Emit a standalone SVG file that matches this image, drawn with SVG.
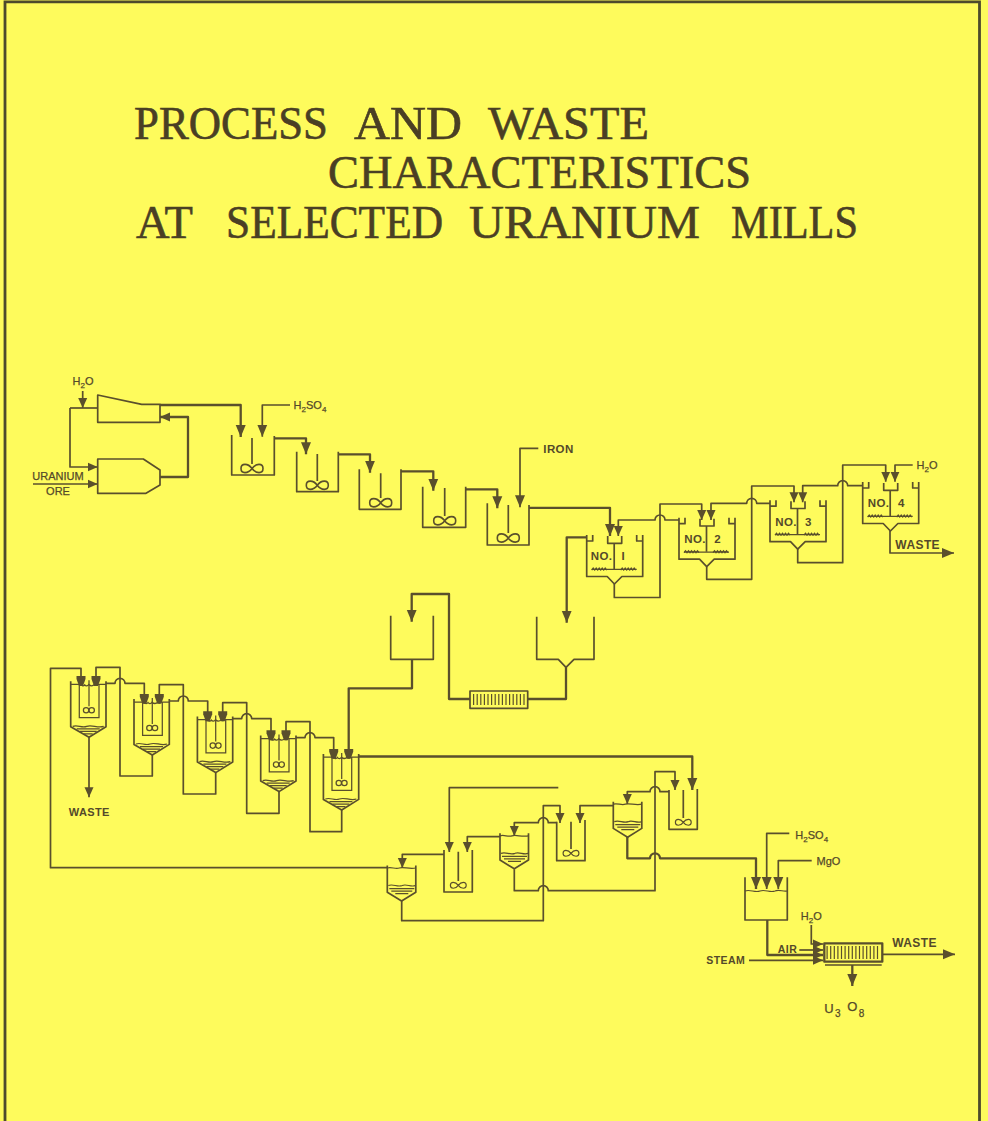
<svg xmlns="http://www.w3.org/2000/svg" width="988" height="1121" viewBox="0 0 988 1121">
<style>
.l{fill:none;stroke:#5a4f2c;stroke-width:1.7;stroke-linejoin:round}
.k{fill:none;stroke:#5a4f2c;stroke-width:2.3;stroke-linejoin:round}
.t{fill:none;stroke:#5a4f2c;stroke-width:1.25}
.g{fill:none;stroke:#5a4f2c;stroke-width:1.6}
.a{marker-end:url(#ar)}
.b{marker-end:url(#sm)}
.c{marker-end:url(#ti)}
text{fill:#54492a;font-family:"Liberation Sans",Arial,sans-serif}
.lab{font-size:11px;text-anchor:middle;stroke:#54492a;stroke-width:.25}
.bd{font-size:11.5px;font-weight:bold;text-anchor:middle;letter-spacing:.4px}
.title{font-family:"Liberation Serif","Times New Roman",serif;font-size:47px;fill:#4a3f24;stroke:#4a3f24;stroke-width:.6}
</style>
<defs>
<marker id="ar" markerUnits="userSpaceOnUse" markerWidth="13" markerHeight="11" viewBox="0 0 13 11" refX="12" refY="5.5" orient="auto"><path d="M0 .5L12 5.5 0 10.5z" fill="#5a4f2c"/></marker>
<marker id="sm" markerUnits="userSpaceOnUse" markerWidth="11" markerHeight="10" viewBox="0 0 11 10" refX="10" refY="5" orient="auto"><path d="M0 .5L10 5 0 9.5z" fill="#5a4f2c"/></marker>
<marker id="ti" markerUnits="userSpaceOnUse" markerWidth="11" markerHeight="10" viewBox="0 0 11 10" refX="10" refY="5" orient="auto"><path d="M0 .5H3L10 3V7L3 9.5H0z" fill="#5a4f2c"/></marker>
<path id="ag" class="g" d="M0 0C-4-5.5-11-5.5-11 0C-11 5.5-4 5.5 0 0C4-5.5 11-5.5 11 0C11 5.5 4 5.5 0 0Z"/>
<g id="thick">
<path class="l" d="M0 0V41.5H20.5L27.7 49 35.2 41.5H56V0M6 0V6H0M50 0V6H56M21 1V8.3H35V1M27.5 8.3V34"/>
<path class="t" d="M5 34.4H50"/>
<path class="t" d="M5 35l1.5-2 1.5 2 1.5-2 1.5 2 1.5-2 1.5 2 1.5-2 1.5 2 1.5-2 1.5 2M34 35l1.5-2 1.5 2 1.5-2 1.5 2 1.5-2 1.5 2 1.5-2 1.5 2 1.5-2 1.5 2"/>
</g>
<g id="unit">
<path class="l" d="M0 -2V43.4L18.3 54 35.3 43.4V-2"/>
<path class="t" d="M0 1H10C11 3 13 3 14 1.5C15 3 17 3 18 1.2C20 3 22 3 24 1H35.3"/>
<path class="t" d="M8.6 1V34.4H28.3V1M18.3 -3V23"/>
<circle class="t" cx="15.4" cy="27" r="2.7"/><circle class="t" cx="21" cy="27" r="2.7"/>
<path class="t" d="M2 43C7 41 11 45 16 43C21 41 27 45 33 43M6 45.5H29M9 48H26M13 50.5H22"/>
</g>
<g id="cell">
<path class="l" d="M0 0V26.7L14.3 35.5 28.5 26.7V0"/>
<path class="t" d="M0 2.5C4 1 8 4 12 2.5C16 1 22 4 28.5 2.5"/>
<path class="t" d="M1 20C6 18 10 22 15 20C19 18 24 22 28 20M2 23H27M4 25.5H25M8 28H21"/>
</g>
</defs>
<rect width="988" height="1121" fill="#fefb5c"/>
<g id="border"><path d="M5 1121V1.9H979.5V1121" fill="none" stroke="#4d4a2c" stroke-width="2.8"/></g>

<g id="title">
<text class="title" y="139"><tspan x="134" textLength="194" lengthAdjust="spacingAndGlyphs">PROCESS</tspan> <tspan x="354" textLength="108" lengthAdjust="spacingAndGlyphs">AND</tspan> <tspan x="488" textLength="161" lengthAdjust="spacingAndGlyphs">WASTE</tspan></text>
<text class="title" x="328" y="188" textLength="423" lengthAdjust="spacingAndGlyphs">CHARACTERISTICS</text>
<text class="title" y="238"><tspan x="136" textLength="56" lengthAdjust="spacingAndGlyphs">AT</tspan> <tspan x="226" textLength="217" lengthAdjust="spacingAndGlyphs">SELECTED</tspan> <tspan x="469" textLength="231" lengthAdjust="spacingAndGlyphs">URANIUM</tspan> <tspan x="731" textLength="127" lengthAdjust="spacingAndGlyphs">MILLS</tspan></text>
</g>

<g id="connectors">
<path class="l b" d="M82.7 391V408"/>
<path class="l" d="M97.7 408H70"/>
<path class="l b" d="M70 408V467H97.7"/>
<path class="l b" d="M33 484H97.7"/>
<path class="k b" d="M160 477H188V417H160"/>
<path class="k a" d="M160 405H240.7V437"/>
<path class="l a" d="M290 405H262.3V436.7"/>
<path class="k a" d="M274.3 438.3H306V454.3"/>
<path class="k a" d="M338.3 454.3H370V472.7"/>
<path class="k a" d="M401 471.3H433.3V490.7"/>
<path class="k a" d="M465.7 489.3H497.3V508.3"/>
<path class="l a" d="M538.3 448.3H520V507.3"/>
<path class="k a" d="M529 507.8H610V536"/>
<path class="l b" d="M679 520H665a5 5 0 0 0-10 0H618.3V536"/>
<path class="k a" d="M586.7 537.3H566.7V622.7"/>
<path class="l b" d="M614.3 584V597.5H660V504H701.7V520"/>
<path class="l b" d="M770 503.3H756.7a5 5 0 0 0-10 0H711V520"/>
<path class="l b" d="M706.7 566.7V579.3H751.7V486H794V502.3"/>
<path class="l b" d="M862.7 485.7H847.7a5 5 0 0 0-10 0H802.7V502.3"/>
<path class="l b" d="M797.7 549V562.7H842.7V465H885.7V481.7"/>
<path class="l b" d="M912.7 465H895V481.7"/>
<path class="l a" d="M890 531V553H954"/>
<path class="k" d="M566 667.3V699H527.7"/>
<path class="k a" d="M470 699H449V594H411.7V621.7"/>

<path class="l c" d="M387.3 867.7H50.5V668.3H81V686"/>
<path class="l c" d="M152.3 755V776H120V667.3H96V686"/>
<path class="l c" d="M106 683.3H115a5 5 0 0 1 10 0H144.3V703.7"/>
<path class="l c" d="M215.7 772.7V794H183.3V684.6H159.3V703.7"/>
<path class="l c" d="M169.3 701H178.3a5 5 0 0 1 10 0H207.7V721.3"/>
<path class="l c" d="M279 791.6V813.3H246.7V702.7H222.7V721.3"/>
<path class="l c" d="M232.7 718.6H241.7a5 5 0 0 1 10 0H271V740.3"/>
<path class="l c" d="M341.7 810V831.7H310V721.7H286V740.3"/>
<path class="l c" d="M296 737.6H305a5 5 0 0 1 10 0H333.7V758.7"/>
<path class="k c" d="M412 659.3V688.3H348.7V758.7"/>
<path class="k a" d="M358.7 756.5H692.3V790"/>
<path class="l b" d="M89 737.3V797.3"/>

<path class="l b" d="M444 854.3H402.3V868"/>
<path class="l b" d="M401.7 900V920.7H543.3V805.7H560V823"/>
<path class="l b" d="M558.3 787.7H449.3V852"/>
<path class="l b" d="M500 836.7H467.3V852"/>
<path class="l b" d="M556.7 822.7H548.3a5 5 0 0 0-10 0H514.3V836"/>
<path class="l b" d="M514.3 869.3V890.7H538.3a5 5 0 0 1 10 0H655V771.7H675V790"/>
<path class="l b" d="M613.3 805.7H580V823"/>
<path class="l b" d="M669 791.7H660a5 5 0 0 0-10 0H627.3V804"/>
<path class="k a" d="M627.3 836.7V858.3H650a5 5 0 0 1 10 0H756V889"/>
<path class="l a" d="M789.3 833.3H766.7V889"/>
<path class="l a" d="M811.7 860.7H778.3V889"/>
<path class="k b" d="M767.3 920V955H823"/>
<path class="l b" d="M811.3 925V944H823"/>
<path class="l b" d="M799.3 950H823"/>
<path class="l b" d="M749 960.3H823"/>
<path class="l a" d="M882.3 954.3H955"/>
<path class="k a" d="M852.3 965V986"/>
</g>

<g id="classifier"><path class="l" d="M97.7 395L141.7 404.3H160V422.3H97.7Z"/></g>
<g id="ball-mill"><path class="l" d="M97.7 459H143.3L160 470V485L146 493.3H97.7Z"/></g>

<g id="tank-1"><path class="l" d="M231.7 435V475H274.3V436M252 438V464"/><use href="#ag" x="252" y="468.5"/></g>
<g id="tank-2"><path class="l" d="M296.7 451.7V491.7H338.3V451.7M317.3 454V481"/><use href="#ag" x="317.3" y="485.3"/></g>
<g id="tank-3"><path class="l" d="M359.3 469.3V509.3H401V469.3M380.7 473.3V498"/><use href="#ag" x="380.7" y="502.7"/></g>
<g id="tank-4"><path class="l" d="M422.7 486.7V527.3H465.7V486.7M444.7 488V516"/><use href="#ag" x="444.7" y="520.7"/></g>
<g id="tank-5"><path class="l" d="M487.3 503.3V545H529V505M508.3 505V533"/><use href="#ag" x="508.3" y="538"/></g>

<g id="thickener-1"><use href="#thick" x="586.7" y="535"/><text class="bd" x="601.5" y="560">NO.</text><text class="bd" x="623.3" y="560">I</text></g>
<g id="thickener-2"><use href="#thick" x="679" y="517.7"/><text class="bd" x="695" y="543">NO.</text><text class="bd" x="717.7" y="543">2</text></g>
<g id="thickener-3"><use href="#thick" x="770" y="500.2"/><text class="bd" x="786" y="525.5">NO.</text><text class="bd" x="808.5" y="525.5">3</text></g>
<g id="thickener-4"><use href="#thick" x="862.7" y="482"/><text class="bd" x="878.5" y="507">NO.</text><text class="bd" x="901.5" y="507">4</text></g>

<g id="holding-tank"><path class="l" d="M390.7 615.7V659.3H433.3V615.7"/></g>
<g id="cone-tank"><path class="l" d="M536.7 616.7V659.3H558.3L566 667.3 574 659.3H594V616.7"/></g>
<g id="filter-1"><rect class="l" x="470" y="691" width="57.7" height="17.3"/><path d="M473 699.6H525" stroke="#5a4f2c" stroke-width="11" stroke-dasharray="1.2 2.4" fill="none"/></g>

<g id="unit-1"><use href="#unit" transform="translate(70.7 683.3)"/></g>
<g id="unit-2"><use href="#unit" transform="translate(134 701)"/></g>
<g id="unit-3"><use href="#unit" transform="translate(197.4 718.6)"/></g>
<g id="unit-4"><use href="#unit" transform="translate(260.7 737.6)"/></g>
<g id="unit-5"><use href="#unit" transform="translate(323.4 756)"/></g>

<g id="cell-a"><use href="#cell" x="387.3" y="865.5"/></g>
<g id="tank-b"><path class="l" d="M444 850V892H472.3V850M458.3 851.7V881"/><use href="#ag" transform="translate(458.3 885.3) scale(.72)"/></g>
<g id="cell-c"><use href="#cell" x="500" y="833.3"/></g>
<g id="tank-d"><path class="l" d="M556.7 821.7V860.7H585V820M571 821.7V849"/><use href="#ag" transform="translate(571 853.3) scale(.72)"/></g>
<g id="cell-e"><use href="#cell" x="613.3" y="801.7"/></g>
<g id="tank-f"><path class="l" d="M669 790V829.3H697.3V789M683.3 790V818"/><use href="#ag" transform="translate(683.3 822.3) scale(.72)"/></g>
<g id="tank-g"><path class="l" d="M745 877.3V920H787.3V877.3"/><path class="t" d="M745 891C750 889 755 893 760 891C765 889 770 893 775 891C779 889 783 892 787 891"/></g>
<g id="filter-2"><rect class="k" x="824.3" y="943.3" width="58" height="18.4"/><path d="M826.5 952.5H880" stroke="#5a4f2c" stroke-width="13" stroke-dasharray="1.2 2.4" fill="none"/><path class="l" d="M825 965H881.7"/></g>

<g id="labels">
<text class="lab" x="83" y="385">H<tspan font-size="8" dy="3">2</tspan><tspan dy="-3">O</tspan></text>
<text class="lab" x="58" y="480">URANIUM</text>
<text class="lab" x="58" y="495">ORE</text>
<text class="lab" x="310" y="409">H<tspan font-size="8" dy="3">2</tspan><tspan dy="-3">SO</tspan><tspan font-size="8" dy="3">4</tspan></text>
<text class="bd" x="558.5" y="452.5">IRON</text>
<text class="lab" x="927" y="469">H<tspan font-size="8" dy="3">2</tspan><tspan dy="-3">O</tspan></text>
<text class="bd" x="917.7" y="548.5" style="font-size:12px">WASTE</text>
<text class="bd" x="89.3" y="816" style="font-size:11px">WASTE</text>
<text class="lab" x="811.7" y="839">H<tspan font-size="8" dy="3">2</tspan><tspan dy="-3">SO</tspan><tspan font-size="8" dy="3">4</tspan></text>
<text class="lab" x="828.5" y="864.5">MgO</text>
<text class="lab" x="811.3" y="919.5">H<tspan font-size="8" dy="3">2</tspan><tspan dy="-3">O</tspan></text>
<text class="bd" x="787.5" y="953" style="font-size:10.5px">AIR</text>
<text class="bd" x="725.7" y="964" style="font-size:10.5px">STEAM</text>
<text class="bd" x="914.5" y="947" style="font-size:12px">WASTE</text>
<text class="lab" x="845" y="1013" style="font-size:13px;letter-spacing:1.5px">U<tspan font-size="10" dy="4">3</tspan><tspan dy="-6"> O</tspan><tspan font-size="10" dy="6">8</tspan></text>
</g>
</svg>
